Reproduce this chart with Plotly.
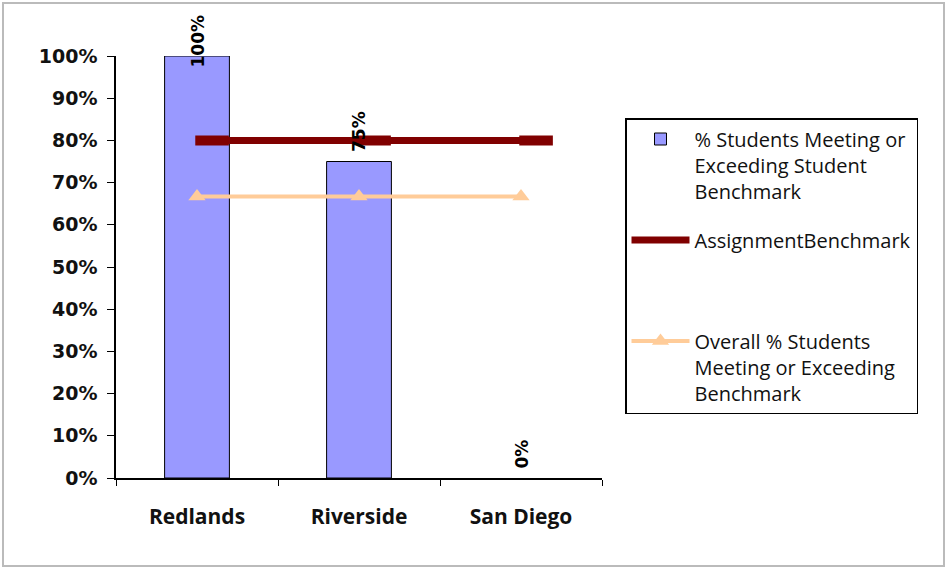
import plotly.graph_objects as go

categories = ["Redlands", "Riverside", "San Diego"]
pct_meeting = [1.00, 0.75, 0.00]
assignment_benchmark = [0.80, 0.80, 0.80]
overall_pct = [0.667, 0.667, 0.667]
y_ticks = [0, 0.1, 0.2, 0.3, 0.4, 0.5, 0.6, 0.7, 0.8, 0.9, 1.0]
y_tick_labels = ["0%", "10%", "20%", "30%", "40%", "50%", "60%", "70%", "80%", "90%", "100%"]

W, H = 947, 569
L, R, T, B = 116, 345, 56, 91

xi = list(range(len(categories)))
dash_offset = 0.093  # Excel draws the dash marker to the right of the point
dash_end = [i + 2 * dash_offset for i in xi]

fig = go.Figure()
fig.add_trace(go.Bar(
    x=xi, y=pct_meeting, width=0.4,
    marker=dict(color="#9999FF",
                line=dict(color="#000000", width=[1 if v > 0 else 0 for v in pct_meeting])),
    name="% Students Meeting or<br>Exceeding Student<br>Benchmark",
    legendgroup="a",
))
fig.add_trace(go.Scatter(
    x=xi[:-1] + [dash_end[-1]], y=assignment_benchmark, mode="lines",
    line=dict(color="#800000", width=7),
    name="AssignmentBenchmark<br> <br> ",
    legendgroup="b",
))
fig.add_trace(go.Scatter(
    x=[i + dash_offset for i in xi], y=assignment_benchmark, mode="markers",
    marker=dict(symbol="line-ew", size=24, line=dict(color="#800000", width=10)),
    showlegend=False, legendgroup="b", hoverinfo="skip",
))
fig.add_trace(go.Scatter(
    x=xi, y=overall_pct, mode="lines+markers",
    line=dict(color="#FFCC99", width=4),
    marker=dict(symbol="triangle-up", size=15, color="#FFCC99"),
    name="Overall % Students<br>Meeting or Exceeding<br>Benchmark",
    legendgroup="c",
))

for i, v in zip(xi, pct_meeting):
    fig.add_annotation(
        x=i, y=v, text=f"{v*100:.0f}%", textangle=-90, showarrow=False,
        yanchor="bottom", yshift=(-14 if v >= 0.95 else 7),
        font=dict(family="DejaVu Sans", size=17, color="#000000", weight="bold"),
    )

fig.add_shape(type="rect", xref="paper", yref="paper",
              x0=(3 - L) / (W - L - R), x1=(944 - L) / (W - L - R),
              y0=(H - B - 566) / (H - T - B), y1=(H - B - 3) / (H - T - B),
              line=dict(color="#BBBBBB", width=2), fillcolor="rgba(0,0,0,0)", layer="below")

fig.update_layout(
    width=W, height=H,
    margin=dict(l=L, r=R, t=T, b=B),
    paper_bgcolor="white", plot_bgcolor="white",
    showlegend=True,
    legend=dict(
        x=(625 - L) / (W - L - R), y=(H - B - 118) / (H - T - B),
        xanchor="left", yanchor="top",
        bordercolor="#000000", borderwidth=1.5,
        font=dict(family="Open Sans", size=20, color="#111111"),
        valign="top", tracegroupgap=20, itemwidth=58,
        traceorder="grouped",
    ),
    xaxis=dict(
        range=[-0.5, 2.5], tickvals=[-0.5, 0.5, 1.5, 2.5], ticktext=["", "", "", ""],
        showline=True, linecolor="#000000", linewidth=1.5,
        ticks="outside", ticklen=6, tickcolor="#000000",
        showgrid=False, zeroline=False,
    ),
    yaxis=dict(
        range=[0, 1], tickvals=y_ticks, ticktext=y_tick_labels,
        showline=True, linecolor="#000000", linewidth=1.5,
        ticks="outside", ticklen=7, tickcolor="#000000",
        showgrid=False, zeroline=False, ticklabelstandoff=6,
        tickfont=dict(family="DejaVu Sans", size=19, color="#111111", weight="bold"),
    ),
    xaxis2=dict(
        overlaying="x", matches="x", side="bottom", anchor="y",
        tickvals=xi, ticktext=categories, ticks="", showline=False,
        showgrid=False, zeroline=False, ticklabelstandoff=24,
        tickfont=dict(family="Open Sans", size=21, color="#111111", weight="bold"),
    ),
    bargap=0.6,
)
# invisible helper trace to carry the category labels on the second x axis
fig.add_trace(go.Scatter(x=xi, y=[0] * len(xi), xaxis="x2", mode="markers",
                         marker=dict(opacity=0), showlegend=False, hoverinfo="skip"))

fig.write_html("out.html", post_script="document.body.style.margin='0';",
               config={"displayModeBar": False})
